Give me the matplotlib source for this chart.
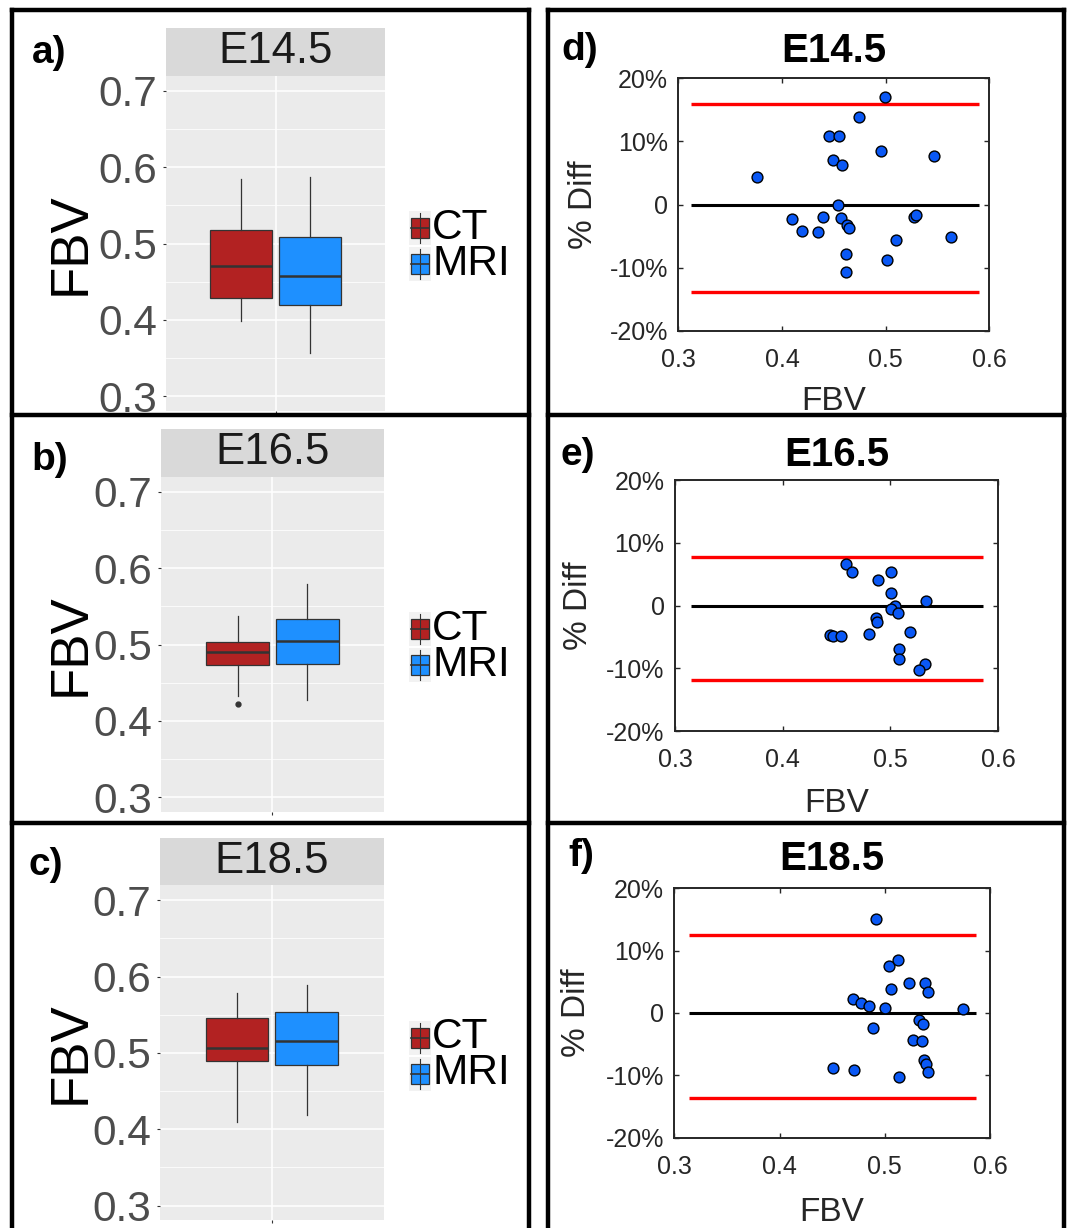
import matplotlib
matplotlib.use('Agg')
import matplotlib.pyplot as plt
from matplotlib.patches import Rectangle

plt.rcParams['font.family'] = ['Liberation Sans', 'DejaVu Sans']

W, H = 1070, 1228

stages = ['E14.5', 'E16.5', 'E18.5']
groups = ['CT', 'MRI']
group_colors = ['#B22222', '#1E90FF']
box_letters = ['a)', 'b)', 'c)']
ba_letters = ['d)', 'e)', 'f)']

# boxplot summaries: whisker low, q1, median, q3, whisker high
ct_stats = [
    [0.399, 0.429, 0.470, 0.518, 0.585],
    [0.433, 0.473, 0.490, 0.504, 0.538],
    [0.409, 0.490, 0.506, 0.546, 0.578],
]
mri_stats = [
    [0.356, 0.419, 0.457, 0.509, 0.587],
    [0.428, 0.474, 0.505, 0.534, 0.580],
    [0.418, 0.484, 0.515, 0.554, 0.589],
]
ct_outliers = [[], [0.422], []]
mri_outliers = [[], [], []]

# Bland-Altman: mean FBV vs % difference
fbv_e14 = [0.499, 0.474, 0.445, 0.455, 0.496, 0.547, 0.449, 0.458, 0.376, 0.454,
           0.410, 0.440, 0.457, 0.419, 0.435, 0.463, 0.465, 0.527, 0.529, 0.510,
           0.563, 0.462, 0.501, 0.462]
diff_e14 = [17.1, 13.8, 10.9, 10.9, 8.5, 7.7, 7.1, 6.3, 4.3, -0.1,
            -2.3, -1.9, -2.1, -4.1, -4.3, -3.3, -3.7, -1.9, -1.7, -5.6,
            -5.1, -7.8, -8.8, -10.6]
fbv_e16 = [0.459, 0.464, 0.501, 0.489, 0.501, 0.533, 0.504, 0.501, 0.507, 0.487,
           0.488, 0.444, 0.447, 0.454, 0.480, 0.518, 0.508, 0.508, 0.532, 0.527]
diff_e16 = [6.6, 5.3, 5.4, 4.1, 2.0, 0.7, 0.0, -0.5, -1.2, -2.0,
            -2.7, -4.7, -4.9, -4.9, -4.5, -4.3, -7.0, -8.5, -9.3, -10.2]
fbv_e18 = [0.492, 0.504, 0.513, 0.523, 0.538, 0.541, 0.506, 0.470, 0.477, 0.485,
           0.500, 0.574, 0.533, 0.536, 0.489, 0.527, 0.535, 0.537, 0.539, 0.541,
           0.451, 0.471, 0.514]
diff_e18 = [15.1, 7.6, 8.5, 4.8, 4.8, 3.3, 3.8, 2.3, 1.6, 1.1,
            0.85, 0.6, -1.1, -1.8, -2.4, -4.3, -4.5, -7.6, -8.1, -9.5,
            -8.9, -9.2, -10.3]
ba_fbv = [fbv_e14, fbv_e16, fbv_e18]
ba_diff = [diff_e14, diff_e16, diff_e18]
bias = [0.0, 0.0, 0.0]
loa_upper = [15.9, 7.7, 12.5]
loa_lower = [-13.9, -11.9, -13.6]
line_x = [(0.312, 0.590), (0.315, 0.586), (0.314, 0.587)]


def px_axes(fig, x0, y0, x1, y1):
    return fig.add_axes([x0 / W, 1 - y1 / H, (x1 - x0) / W, (y1 - y0) / H])


fig = plt.figure(figsize=(W / 100, H / 100), dpi=100)
fig.patch.set_facecolor('white')

# ---- left column: ggplot-like boxplots
panel_px = [(166, 75.7, 385, 410.7), (161, 476.7, 384, 811.7), (160, 885, 384, 1220)]
strip_h = 47.5
legend_boxes = []
for i, stage in enumerate(stages):
    x0, y0, x1, y1 = panel_px[i]
    ax = px_axes(fig, x0, y0, x1, y1)
    ax.set_facecolor('#EBEBEB')
    for s in ax.spines.values():
        s.set_visible(False)
    ax.set_xlim(0.4, 1.6)
    ax.set_ylim(0.281, 0.72)
    ax.set_yticks([0.3, 0.4, 0.5, 0.6, 0.7])
    ax.set_yticklabels(['0.3', '0.4', '0.5', '0.6', '0.7'])
    ax.set_yticks([0.35, 0.45, 0.55, 0.65], minor=True)
    ax.set_xticks([1])
    ax.set_xticklabels([''])
    ax.set_axisbelow(True)
    ax.grid(which='major', color='white', lw=1.1)
    ax.grid(which='minor', axis='y', color='white', lw=0.55)
    ax.tick_params(which='major', length=2.5, width=0.8, color='#333333',
                   labelsize=30.5, labelcolor='#4D4D4D', pad=4)
    ax.tick_params(which='minor', length=0)

    stats = []
    for s5, fl, lab in [(ct_stats[i], ct_outliers[i], 'CT'), (mri_stats[i], mri_outliers[i], 'MRI')]:
        stats.append(dict(whislo=s5[0], q1=s5[1], med=s5[2], q3=s5[3], whishi=s5[4],
                          fliers=fl, label=lab))
    bp = ax.bxp(stats, positions=[0.8125, 1.1875], widths=0.3375, patch_artist=True,
                showcaps=False, manage_ticks=False,
                boxprops=dict(edgecolor='#333333', lw=0.9),
                medianprops=dict(color='#333333', lw=1.8),
                whiskerprops=dict(color='#333333', lw=0.9),
                flierprops=dict(marker='o', markersize=3.5, markerfacecolor='#333333',
                                markeredgecolor='#333333'))
    for patch, c in zip(bp['boxes'], group_colors):
        patch.set_facecolor(c)

    ax.set_ylabel('FBV', fontsize=38, color='black', va='center')
    ax.yaxis.set_label_coords((71 - x0) / (x1 - x0), 0.5)

    st = px_axes(fig, x0, y0 - strip_h, x1, y0)
    st.set_facecolor('#D9D9D9')
    st.set_xticks([])
    st.set_yticks([])
    for s in st.spines.values():
        s.set_visible(False)
    st.text(0.5, 0.5, stage, transform=st.transAxes, ha='center', va='center',
            fontsize=31.5, color='#1A1A1A')
    legend_boxes.append((y0 + y1) / 2 + 3)

# ---- right column: Bland-Altman scatter plots
ba_px = [(678.3, 78.3, 989.3, 331), (675, 480, 998, 731), (674.3, 888.3, 990, 1137.7)]
title_pad = [12, 10, 13]
xlabel_y = [-0.218, -0.227, -0.237]
ylabel_x = [-0.305, -0.300, -0.310]
for i, stage in enumerate(stages):
    x0, y0, x1, y1 = ba_px[i]
    ax = px_axes(fig, x0, y0, x1, y1)
    xa, xb = line_x[i]
    ax.hlines([loa_upper[i], loa_lower[i]], xa, xb, colors='#FF0000', lw=2.4, zorder=2)
    ax.hlines(bias[i], xa, xb, colors='black', lw=2.2, zorder=2)
    ax.plot(ba_fbv[i], ba_diff[i], 'o', ms=7.8, mfc='#0A58F5', mec='black', mew=1, zorder=3)
    ax.set_xlim(0.3, 0.6)
    ax.set_ylim(-20, 20)
    ax.set_xticks([0.3, 0.4, 0.5, 0.6])
    ax.set_xticklabels(['0.3', '0.4', '0.5', '0.6'])
    ax.set_yticks([-20, -10, 0, 10, 20])
    ax.set_yticklabels(['-20%', '-10%', '0', '10%', '20%'])
    for s in ax.spines.values():
        s.set_color('#262626')
        s.set_linewidth(1.4)
    ax.tick_params(direction='in', top=True, right=True, length=3.5, width=1,
                   color='#262626', labelcolor='#262626', labelsize=18)
    ax.tick_params(axis='x', pad=12.5)
    ax.tick_params(axis='y', pad=7.5)
    ax.set_title(stage, fontsize=29, fontweight='bold', color='black', pad=title_pad[i])
    ax.set_xlabel('FBV', fontsize=24, color='#262626', va='top')
    ax.xaxis.set_label_coords(0.5, xlabel_y[i])
    ax.set_ylabel('% Diff', fontsize=24, color='#262626', va='center')
    ax.yaxis.set_label_coords(ylabel_x[i], 0.5)

# ---- overlay: borders, panel letters, legends (pixel coordinates)
ov = fig.add_axes([0, 0, 1, 1], zorder=10)
ov.set_xlim(0, W)
ov.set_ylim(H, 0)
ov.axis('off')
ov.patch.set_alpha(0)

bw = 3.2
for xv in [12, 529, 547.5, 1064]:
    ov.plot([xv, xv], [10, H], color='black', lw=bw, solid_capstyle='projecting')
for yh in [10, 415, 823]:
    ov.plot([12, 529], [yh, yh], color='black', lw=bw, solid_capstyle='projecting')
    ov.plot([547.5, 1064], [yh, yh], color='black', lw=bw, solid_capstyle='projecting')

letter_pos = [(32, 63), (31.5, 470), (29, 875)]
for (lx, ly), t in zip(letter_pos, box_letters):
    ov.text(lx, ly, t, fontsize=28, fontweight='bold', va='baseline', ha='left')
letter_pos = [(561.5, 60), (560, 465), (568, 866.5)]
for (lx, ly), t in zip(letter_pos, ba_letters):
    ov.text(lx, ly, t, fontsize=28, fontweight='bold', va='baseline', ha='left')

for cy in legend_boxes:
    for j, (g, c) in enumerate(zip(groups, group_colors)):
        rc = cy + (j - 0.5) * 36
        ov.add_patch(Rectangle((409, rc - 17), 22, 34, facecolor='#F2F2F2', edgecolor='none'))
        ov.plot([420, 420], [rc - 15, rc + 15], color='#333333', lw=0.8)
        ov.add_patch(Rectangle((411, rc - 10), 18, 20, facecolor=c, edgecolor='#333333', lw=0.9))
        ov.plot([411, 429], [rc, rc], color='#333333', lw=1.2)
        ov.text(432, rc, g, fontsize=30.5, color='black', va='center', ha='left')

fig.savefig('out.png', dpi=100)
